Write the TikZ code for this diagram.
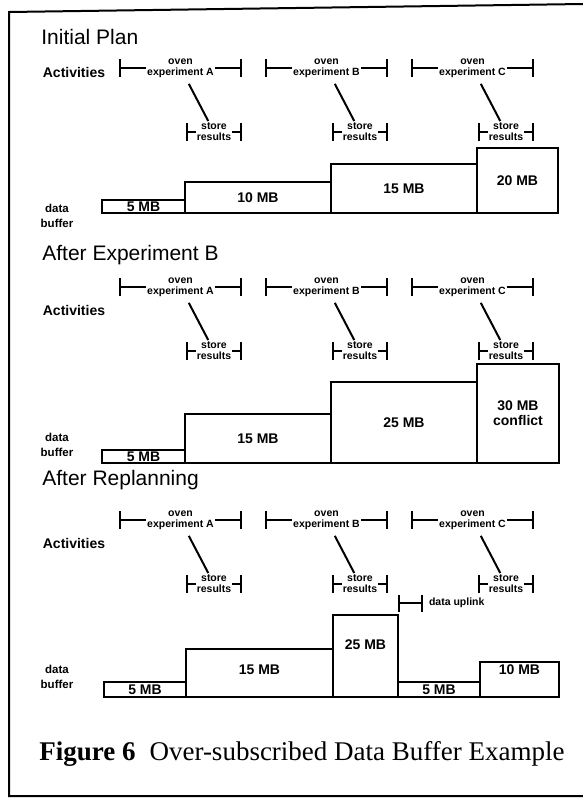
\documentclass[tikz,border=0pt]{standalone}
\usepackage{fontspec}
\setmainfont{Liberation Serif}
\setsansfont{Liberation Sans}
\usetikzlibrary{arrows.meta}
\begin{document}
\begin{tikzpicture}[x=1pt,y=-1pt, line width=2pt,
  every node/.style={font=\sffamily\bfseries\fontsize{14}{15}\selectfont},
  heading/.style={anchor=west, font=\sffamily\fontsize{21}{23}\selectfont},
  tiny/.style={align=center, fill=white, inner sep=1pt, font=\sffamily\bfseries\fontsize{10.5}{11}\selectfont},
  span/.style={{Bar[width=18pt]}-{Bar[width=18pt]}},
  buflabel/.style={align=center, font=\sffamily\bfseries\fontsize{11.5}{15}\selectfont}]
\useasboundingbox (0,0) rectangle (583,798);
\draw (583,4) -- (9,12) -- (9,796) -- (583,796);
\node[heading] (t1) at (37,37) {Initial Plan};
\node[heading] (t2) at (38,255) {After Experiment B};
\node[heading] (t3) at (38,480) {After Replanning};
\node (act1) at (74,72) {Activities};
\node (act2) at (74,310) {Activities};
\node (act3) at (74,543) {Activities};
\foreach \s/\y in {1/68,2/287,3/520} {
  \foreach \a/\x in {A/119,B/265,C/411} {
    \draw[span] (\x,\y) -- +(123,0);
    \node[tiny] (e\s\a) at (\x+61.5,\y) {oven\\experiment \a};
    \draw[span] (\x+67,\y+64) -- +(56,0);
    \node[tiny] (r\s\a) at (\x+95,\y+64) {store\\results};
    \draw[shorten <=5pt] (e\s\a) -- (r\s\a);
  }
}
\node[buflabel] (d1) at (57,215.5) {data\\buffer};
\node[buflabel] (d2) at (57,445) {data\\buffer};
\node[buflabel] (d3) at (57,677) {data\\buffer};
% initial plan
\draw (102,200) rectangle (185,213);
\draw (185,182) rectangle (331,213);
\draw (331,164) rectangle (477,213);
\draw (477,148) rectangle (558,213);
\node (m11) at (143.5,206.5) {5 MB};
\node (m12) at (258,197.5) {10 MB};
\node (m13) at (404,188.5) {15 MB};
\node (m14) at (517.5,180.5) {20 MB};
% after experiment B
\draw (102,450) rectangle (185,463);
\draw (185,414) rectangle (331,463);
\draw (331,382) rectangle (477,463);
\draw (477,364) rectangle (559,463);
\node (m21) at (143.5,456.5) {5 MB};
\node (m22) at (258,438.5) {15 MB};
\node (m23) at (404,422.5) {25 MB};
\node[align=center] (m24) at (518,413.5) {30 MB\\conflict};
% after replanning
\draw[span, {Bar[width=17pt]}-{Bar[width=17pt]}] (398,603) -- (423,603);
\node[tiny, anchor=west, fill=none] (up) at (427,603) {data uplink};
\draw (104,682) rectangle (186,697);
\draw (186,649) rectangle (333,697);
\draw (333,615) rectangle (398,697);
\draw (398,682) rectangle (480,697);
\draw (480,662) rectangle (559,697);
\node (m31) at (145,689.5) {5 MB};
\node (m32) at (259.5,670) {15 MB};
\node (m33) at (365.5,645) {25 MB};
\node (m34) at (439,689.5) {5 MB};
\node (m35) at (519.5,670) {10 MB};
\node[anchor=west, font=\rmfamily\fontsize{27}{30}\selectfont] (cap) at (35,754)
  {\textbf{Figure 6}\hspace{14pt}Over-subscribed Data Buffer Example};
\end{tikzpicture}
\end{document}
